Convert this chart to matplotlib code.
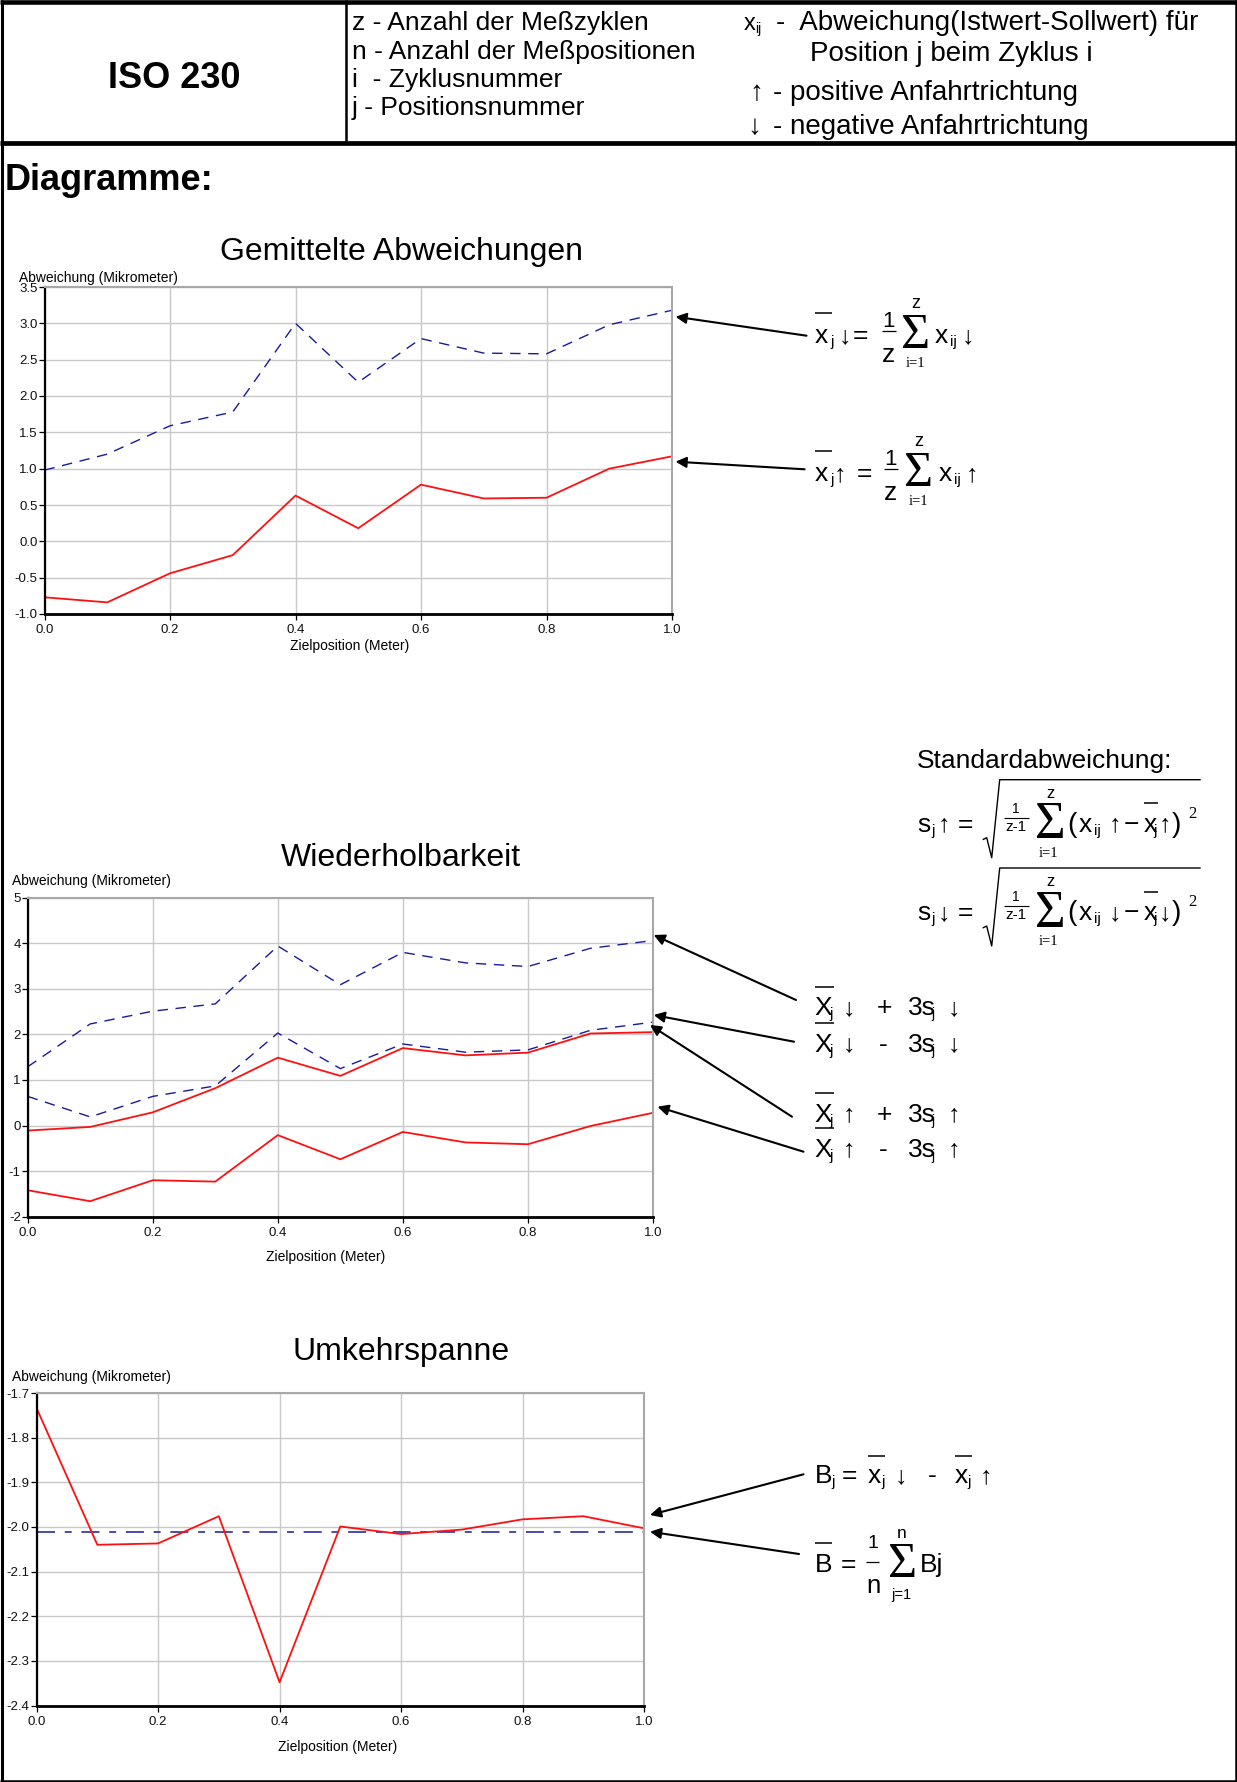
import matplotlib
matplotlib.use("Agg")
import matplotlib.pyplot as plt
from matplotlib.lines import Line2D
from matplotlib.patches import FancyArrowPatch

plt.rcParams['font.family'] = ['Liberation Sans', 'DejaVu Sans']
plt.rcParams['axes.unicode_minus'] = False
plt.rcParams['lines.scale_dashes'] = False

# ---------------- data ----------------
x_pos = [0.0, 0.1, 0.2, 0.3, 0.4, 0.5, 0.6, 0.7, 0.8, 0.9, 1.0]

# Gemittelte Abweichungen
mean_down = [0.98, 1.20, 1.59, 1.78, 3.00, 2.19, 2.79, 2.59, 2.58, 2.98, 3.18]
mean_up = [-0.77, -0.84, -0.44, -0.19, 0.63, 0.18, 0.78, 0.59, 0.60, 1.00, 1.17]

# Wiederholbarkeit
down_plus = [1.29, 2.23, 2.51, 2.67, 3.94, 3.09, 3.80, 3.57, 3.49, 3.89, 4.06]
down_minus = [0.64, 0.19, 0.64, 0.87, 2.03, 1.25, 1.79, 1.61, 1.66, 2.09, 2.27]
up_plus = [-0.11, -0.03, 0.29, 0.82, 1.49, 1.09, 1.70, 1.54, 1.60, 2.02, 2.05]
up_minus = [-1.42, -1.66, -1.20, -1.23, -0.21, -0.74, -0.14, -0.37, -0.41, -0.01, 0.28]

# Umkehrspanne
B_vals = [-1.734, -2.040, -2.037, -1.976, -2.348, -1.999, -2.016, -2.006, -1.983, -1.976, -2.003]
B_mean = -2.011

x_ticks = [0.0, 0.2, 0.4, 0.6, 0.8, 1.0]
x_ticklabels = ["0.0", "0.2", "0.4", "0.6", "0.8", "1.0"]
y1_ticks = [-1.0, -0.5, 0.0, 0.5, 1.0, 1.5, 2.0, 2.5, 3.0, 3.5]
y1_labels = ["-1.0", "-0.5", "0.0", "0.5", "1.0", "1.5", "2.0", "2.5", "3.0", "3.5"]
y2_ticks = [-2, -1, 0, 1, 2, 3, 4, 5]
y2_labels = ["-2", "-1", "0", "1", "2", "3", "4", "5"]
y3_ticks = [-2.4, -2.3, -2.2, -2.1, -2.0, -1.9, -1.8, -1.7]
y3_labels = ["-2.4", "-2.3", "-2.2", "-2.1", "-2.0", "-1.9", "-1.8", "-1.7"]

titles = ["Gemittelte Abweichungen", "Wiederholbarkeit", "Umkehrspanne"]
ylab = "Abweichung (Mikrometer)"
xlab = "Zielposition (Meter)"

# ---------------- figure ----------------
W, H = 1237, 1782
fig = plt.figure(figsize=(W / 100, H / 100), dpi=100)
fig.patch.set_facecolor('white')

def fx(x):
    return x / W

def fy(y):
    return 1 - y / H

SANS = ['Liberation Sans', 'DejaVu Sans']
SERIF = ['Liberation Serif', 'DejaVu Serif']

def txt(x, y, s, size, ha='left', va='baseline', weight='normal', family=None, color='black'):
    fig.text(fx(x), fy(y), s, fontsize=size, ha=ha, va=va, fontweight=weight,
             family=family if family else SANS, color=color)

def line(xs, ys, lw, color='black'):
    fig.add_artist(Line2D([fx(v) for v in xs], [fy(v) for v in ys], lw=lw, color=color,
                          transform=fig.transFigure, solid_capstyle='butt'))

def bar(x0, x1, y, lw=1.1):
    line([x0, x1], [y, y], lw)

def arrow(tail, head):
    fig.add_artist(FancyArrowPatch((fx(tail[0]), fy(tail[1])), (fx(head[0]), fy(head[1])),
                                   transform=fig.transFigure, arrowstyle='-|>',
                                   mutation_scale=16, lw=1.5, color='black',
                                   shrinkA=0, shrinkB=0))

# ---------------- page frame ----------------
line([1.5, 1.5], [0, H], 2.2)
line([W - 1.5, W - 1.5], [0, H], 1.8)
line([0, W], [2.3, 2.3], 3.3)
line([0, W], [H - 1.5, H - 1.5], 1.8)
line([0, W], [143, 143], 3.4)
line([346, 346], [0, 143], 1.8)

# ---------------- header ----------------
txt(174, 79, "ISO 230", 26, ha='center', va='center', weight='bold')
left_col = ["z - Anzahl der Meßzyklen", "n - Anzahl der Meßpositionen",
            "i  - Zyklusnummer", "j - Positionsnummer"]
for s, yy in zip(left_col, [23, 51.5, 80, 108]):
    txt(352, yy, s, 19, va='center')
txt(744, 30, "x", 17)
txt(755, 33, "ij", 10)
txt(776, 23, "-  Abweichung(Istwert-Sollwert) für", 20, va='center')
txt(810, 54, "Position j beim Zyklus i", 20, va='center')
txt(749, 93, "\u2191", 20, va='center')
txt(773, 93, "- positive Anfahrtrichtung", 20, va='center')
txt(747, 127, "\u2193", 20, va='center')
txt(773, 127, "- negative Anfahrtrichtung", 20, va='center')

txt(5, 180, "Diagramme:", 26, va='center', weight='bold')

# ---------------- axes helper ----------------
def make_axes(l, t, r, b, ylim, yticks, ylabels):
    ax = fig.add_axes([fx(l), fy(b), (r - l) / W, (b - t) / H])
    ax.set_xlim(0, 1)
    ax.set_ylim(*ylim)
    ax.set_xticks(x_ticks)
    ax.set_xticklabels(x_ticklabels)
    ax.set_yticks(yticks)
    ax.set_yticklabels(ylabels)
    ax.grid(True, color='#c8c8c8', lw=1.0)
    ax.set_axisbelow(True)
    ax.spines['left'].set_color('black')
    ax.spines['left'].set_linewidth(1.6)
    ax.spines['bottom'].set_color('black')
    ax.spines['bottom'].set_linewidth(2.0)
    for s in ('top', 'right'):
        ax.spines[s].set_color('#a8a8a8')
        ax.spines[s].set_linewidth(1.5)
    ax.tick_params(axis='both', direction='out', length=4.5, width=0.9, color='black',
                   labelsize=9.5, labelcolor='#111111')
    ax.tick_params(axis='y', pad=0.5)
    ax.tick_params(axis='x', pad=3)
    for lab in ax.get_xticklabels() + ax.get_yticklabels():
        lab.set_family(SANS)
    return ax

RED = '#ff1010'
BLUE = '#1a1a9a'

# Chart 1
ax1 = make_axes(44.5, 287, 672, 614, (-1.0, 3.5), y1_ticks, y1_labels)
ax1.plot(x_pos, mean_down, color=BLUE, lw=1.0, dashes=(7.5, 5.5))
ax1.plot(x_pos, mean_up, color=RED, lw=1.3)
txt(401, 252, titles[0], 23, ha='center', va='center')
txt(19, 278, ylab, 10, va='center')
txt(350, 646, xlab, 10, ha='center', va='center')

# Chart 2
ax2 = make_axes(27.7, 897.7, 653, 1216.7, (-2, 5), y2_ticks, y2_labels)
ax2.plot(x_pos, down_plus, color=BLUE, lw=1.0, dashes=(7.5, 5.5))
ax2.plot(x_pos, down_minus, color=BLUE, lw=1.0, dashes=(7.5, 5.5))
ax2.plot(x_pos, up_plus, color=RED, lw=1.3)
ax2.plot(x_pos, up_minus, color=RED, lw=1.3)
txt(401, 858, titles[1], 23, ha='center', va='center')
txt(12.5, 881, ylab, 10, va='center')
txt(326, 1257, xlab, 10, ha='center', va='center')

# Chart 3
ax3 = make_axes(36.6, 1393, 644, 1705.5, (-2.4, -1.7), y3_ticks, y3_labels)
ax3.axhline(B_mean, color=BLUE, lw=1.1, dashes=(13, 7, 5, 7))
ax3.plot(x_pos, B_vals, color=RED, lw=1.3)
txt(401, 1352, titles[2], 23, ha='center', va='center')
txt(12.5, 1377, ylab, 10, va='center')
txt(338, 1747, xlab, 10, ha='center', va='center')

# ---------------- formulas ----------------
def mean_formula(x0, base, arr, o):
    bar(x0, x0 + 17, base - 30)
    txt(x0, base, "x", 19)
    txt(x0 + 15.5, base + 3, "j", 11)
    txt(x0 + o['arr'], base, arr, 18)
    txt(x0 + o['eq'], base, "=", 19)
    txt(x0 + o['fr'], base - 16, "1", 16, ha='center')
    bar(x0 + o['fr'] - 7, x0 + o['fr'] + 7, base - 12, lw=0.9)
    txt(x0 + o['fr'], base + 19, "z", 19, ha='center')
    txt(x0 + o['sg'], base + 5, "\u03a3", 36, ha='center', family=SERIF)
    txt(x0 + o['sg'], base - 35, "z", 13, ha='center')
    txt(x0 + o['sg'], base + 24, "i=1", 10.5, ha='center', family=SERIF)
    txt(x0 + o['x2'], base, "x", 19)
    txt(x0 + o['x2'] + 15, base + 3, "ij", 11)
    txt(x0 + o['x2'] + 27, base, arr, 18)

mean_formula(814.7, 343, "\u2193", dict(arr=24, eq=38, fr=74, sg=101, x2=120))
mean_formula(814.7, 481, "\u2191", dict(arr=19, eq=42, fr=76, sg=104, x2=124))
arrow((806.5, 335.7), (675.5, 316.7))
arrow((804.6, 469.3), (675.5, 461.7))

# Standard deviation
txt(916.6, 761, "Standardabweichung:", 19, va='center')

def sd_formula(x0, base, arr):
    txt(x0, base, "s", 19)
    txt(x0 + 14, base + 3, "j", 11)
    txt(x0 + 20, base, arr, 18)
    txt(x0 + 40, base, "=", 19)
    line([x0 + 65, x0 + 69, x0 + 74, x0 + 82, x0 + 283],
         [base + 8, base + 6, base + 26, base - 52, base - 52], 1.0)
    txt(x0 + 98.5, base - 18.5, "1", 10, ha='center')
    bar(x0 + 86.5, x0 + 111, base - 14, lw=0.8)
    txt(x0 + 98.5, base - 1, "z-1", 11, ha='center')
    txt(x0 + 133, base + 6.5, "\u03a3", 38, ha='center', family=SERIF)
    txt(x0 + 132.5, base - 33.5, "z", 12, ha='center')
    txt(x0 + 131, base + 25, "i=1", 10.5, ha='center', family=SERIF)
    txt(x0 + 150, base, "(", 20)
    txt(x0 + 161.5, base, "x", 19)
    txt(x0 + 176, base + 3, "ij", 11)
    txt(x0 + 191, base, arr, 18)
    txt(x0 + 206, base, "\u2212", 19)
    bar(x0 + 226.5, x0 + 240, base - 28.5)
    txt(x0 + 226.5, base, "x", 19)
    txt(x0 + 236, base + 3, "j", 11)
    txt(x0 + 241, base, arr, 18)
    txt(x0 + 254, base, ")", 20)
    txt(x0 + 271, base - 13.5, "2", 12, family=SERIF)

sd_formula(917.7, 831.7, "\u2191")
sd_formula(917.7, 920, "\u2193")

def band_label(x0, base, arr, sign):
    bar(x0, x0 + 19, base - 28.3)
    txt(x0, base, "X", 19)
    txt(x0 + 14.5, base + 3, "j", 11)
    txt(x0 + 28.3, base, arr, 18)
    txt(x0 + (62 if sign == "+" else 64), base, sign, 19)
    txt(x0 + 93, base, "3s", 19)
    txt(x0 + 117, base + 3, "j", 10)
    txt(x0 + 133, base, arr, 18)

band_label(814.7, 1015, "\u2193", "+")
band_label(814.7, 1051.7, "\u2193", "-")
band_label(814.7, 1121.7, "\u2191", "+")
band_label(814.7, 1156.7, "\u2191", "-")
arrow((796, 1000), (653.7, 935))
arrow((794, 1041.7), (653.7, 1015))
arrow((792, 1116.7), (650, 1025))
arrow((803.5, 1151.7), (657.5, 1106.7))

# Umkehrspanne formulas
x0, base = 814.7, 1483.3
txt(x0, base, "B", 19)
txt(x0 + 16.5, base + 3, "j", 11)
txt(x0 + 27, base, "=", 19)
bar(x0 + 53.3, x0 + 70, base - 27.3)
txt(x0 + 53.3, base, "x", 19)
txt(x0 + 66.3, base + 3, "j", 11)
txt(x0 + 80.3, base, "\u2193", 18)
txt(x0 + 113.3, base, "-", 19)
bar(x0 + 140.3, x0 + 157, base - 27.3)
txt(x0 + 140.3, base, "x", 19)
txt(x0 + 153, base + 3, "j", 11)
txt(x0 + 165, base, "\u2191", 18)

x0, base = 814.7, 1571.7
bar(x0, x0 + 17, base - 29)
txt(x0, base, "B", 19)
txt(x0 + 26.3, base, "=", 19)
txt(x0 + 58.6, base - 23.4, "1", 14, ha='center')
bar(x0 + 51.7, x0 + 64.3, base - 10, lw=0.9)
txt(x0 + 58.3, base + 21.6, "n", 18.5, ha='center')
txt(x0 + 88, base + 5, "\u03a3", 36, ha='center', family=SERIF)
txt(x0 + 87, base - 34, "n", 12.5, ha='center')
txt(x0 + 87, base + 27, "j=1", 10.5, ha='center')
txt(x0 + 105, base, "Bj", 19)
arrow((803.5, 1474.3), (650, 1515))
arrow((799, 1554), (650, 1531.7))

fig.savefig("out.png", dpi=100, facecolor='white')
